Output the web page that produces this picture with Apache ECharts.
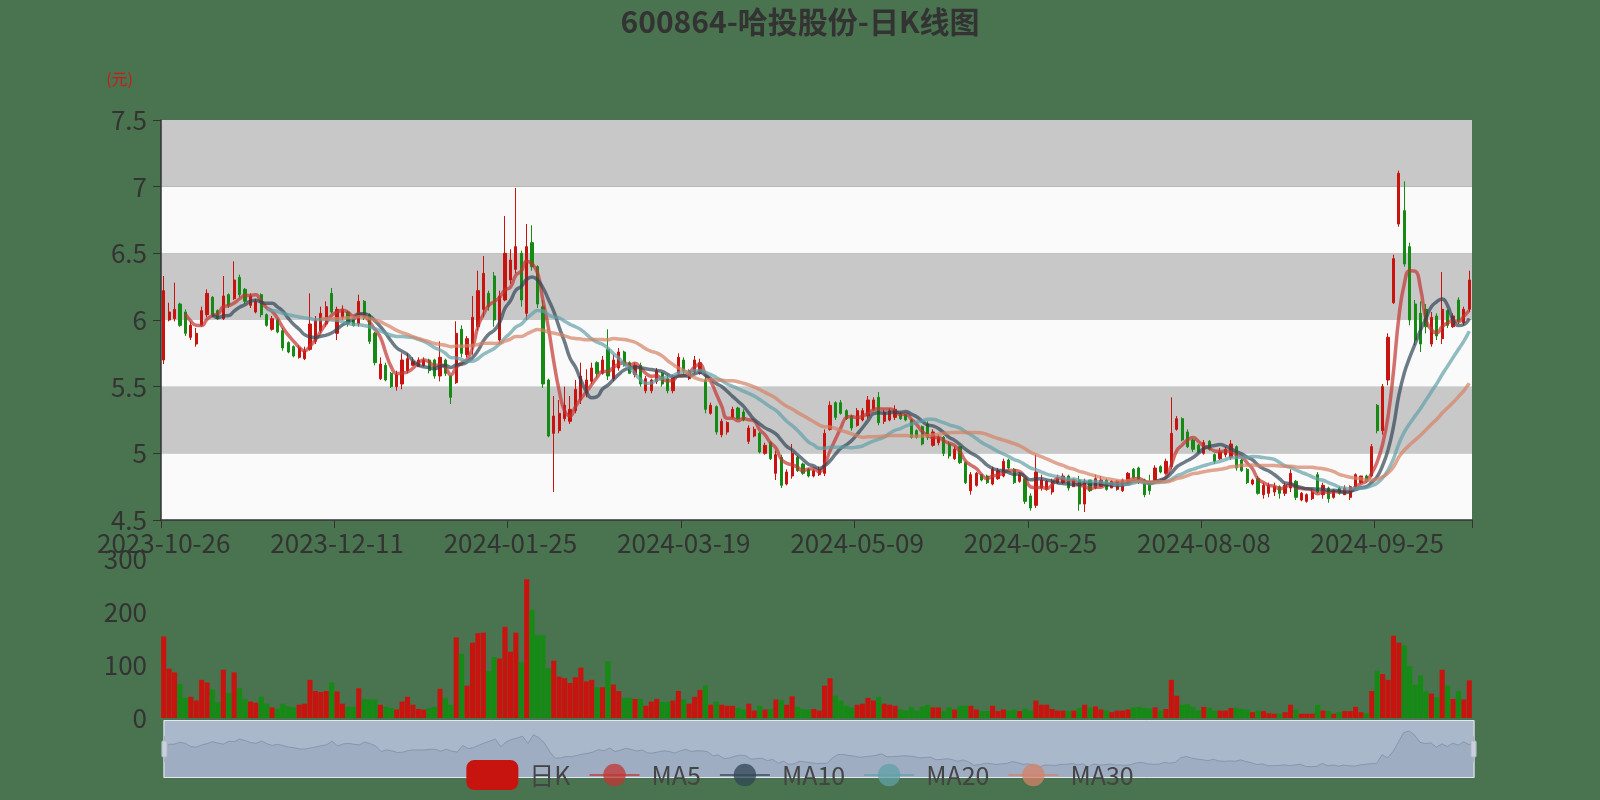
<!DOCTYPE html>
<html><head><meta charset="utf-8">
<script src="https://cdn.jsdelivr.net/npm/echarts@6/dist/echarts.min.js"></script>
<style>html,body{margin:0;padding:0;background:#4a7350;}#main{width:1600px;height:800px;}</style>
</head><body><div id="main"></div><script>
const dates = [
'2023-10-26','2023-10-27','2023-10-30','2023-10-31',
'2023-11-01','2023-11-02','2023-11-03','2023-11-06','2023-11-07','2023-11-08','2023-11-09','2023-11-10','2023-11-13','2023-11-14','2023-11-15','2023-11-16','2023-11-17','2023-11-20','2023-11-21','2023-11-22','2023-11-23','2023-11-24','2023-11-27','2023-11-28','2023-11-29','2023-11-30',
'2023-12-01','2023-12-04','2023-12-05','2023-12-06','2023-12-07','2023-12-08','2023-12-11','2023-12-12','2023-12-13','2023-12-14','2023-12-15','2023-12-18','2023-12-19','2023-12-20','2023-12-21','2023-12-22','2023-12-25','2023-12-26','2023-12-27','2023-12-28','2023-12-29',
'2024-01-02','2024-01-03','2024-01-04','2024-01-05','2024-01-08','2024-01-09','2024-01-10','2024-01-11','2024-01-12','2024-01-15','2024-01-16','2024-01-17','2024-01-18','2024-01-19','2024-01-22','2024-01-23','2024-01-24','2024-01-25','2024-01-26','2024-01-29','2024-01-30','2024-01-31',
'2024-02-01','2024-02-02','2024-02-05','2024-02-06','2024-02-07','2024-02-08','2024-02-19','2024-02-20','2024-02-21','2024-02-22','2024-02-23','2024-02-26','2024-02-27','2024-02-28','2024-02-29',
'2024-03-01','2024-03-04','2024-03-05','2024-03-06','2024-03-07','2024-03-08','2024-03-11','2024-03-12','2024-03-13','2024-03-14','2024-03-15','2024-03-18','2024-03-19','2024-03-20','2024-03-21','2024-03-22','2024-03-25','2024-03-26','2024-03-27','2024-03-28','2024-03-29',
'2024-04-01','2024-04-02','2024-04-03','2024-04-08','2024-04-09','2024-04-10','2024-04-11','2024-04-12','2024-04-15','2024-04-16','2024-04-17','2024-04-18','2024-04-19','2024-04-22','2024-04-23','2024-04-24','2024-04-25','2024-04-26','2024-04-29','2024-04-30',
'2024-05-06','2024-05-07','2024-05-08','2024-05-09','2024-05-10','2024-05-13','2024-05-14','2024-05-15','2024-05-16','2024-05-17','2024-05-20','2024-05-21','2024-05-22','2024-05-23','2024-05-24','2024-05-27','2024-05-28','2024-05-29','2024-05-30','2024-05-31',
'2024-06-03','2024-06-04','2024-06-05','2024-06-06','2024-06-07','2024-06-11','2024-06-12','2024-06-13','2024-06-14','2024-06-17','2024-06-18','2024-06-19','2024-06-20','2024-06-21','2024-06-24','2024-06-25','2024-06-26','2024-06-27','2024-06-28',
'2024-07-01','2024-07-02','2024-07-03','2024-07-04','2024-07-05','2024-07-08','2024-07-09','2024-07-10','2024-07-11','2024-07-12','2024-07-15','2024-07-16','2024-07-17','2024-07-18','2024-07-19','2024-07-22','2024-07-23','2024-07-24','2024-07-25','2024-07-26','2024-07-29','2024-07-30','2024-07-31',
'2024-08-01','2024-08-02','2024-08-05','2024-08-06','2024-08-07','2024-08-08','2024-08-09','2024-08-12','2024-08-13','2024-08-14','2024-08-15','2024-08-16','2024-08-19','2024-08-20','2024-08-21','2024-08-22','2024-08-23','2024-08-26','2024-08-27','2024-08-28','2024-08-29','2024-08-30',
'2024-09-02','2024-09-03','2024-09-04','2024-09-05','2024-09-06','2024-09-09','2024-09-10','2024-09-11','2024-09-12','2024-09-13','2024-09-18','2024-09-19','2024-09-20','2024-09-23','2024-09-24','2024-09-25','2024-09-26','2024-09-27','2024-09-30',
'2024-10-08','2024-10-09','2024-10-10','2024-10-11','2024-10-14','2024-10-15','2024-10-16','2024-10-17','2024-10-18','2024-10-21','2024-10-22','2024-10-23','2024-10-24','2024-10-25'
];
// [open, close, lowest, highest]
const ohlc = [
[5.70,6.22,5.67,6.33],[6.00,6.06,5.99,6.13],[6.01,6.08,5.99,6.28],[6.12,5.96,5.95,6.13],[6.06,5.90,5.88,6.08],
[5.87,5.96,5.85,5.99],[5.82,5.90,5.80,5.94],[5.96,6.07,5.95,6.10],[6.04,6.20,6.02,6.23],[6.17,6.04,6.02,6.18],
[6.07,6.01,6.00,6.08],[6.01,6.18,6.00,6.33],[6.19,6.11,6.09,6.20],[6.16,6.30,6.15,6.44],[6.32,6.19,6.17,6.34],
[6.23,6.14,6.12,6.24],[6.11,6.18,6.09,6.20],[6.06,6.14,6.05,6.16],[6.19,6.04,6.02,6.20],[6.04,5.96,5.95,6.05],
[5.93,6.01,5.92,6.03],[6.00,5.91,5.90,6.01],[5.92,5.79,5.77,5.94],[5.83,5.76,5.75,5.84],[5.80,5.73,5.72,5.81],
[5.72,5.79,5.71,5.81],[5.71,5.77,5.70,5.80],[5.78,5.97,5.77,6.20],[5.84,6.00,5.82,6.03],[5.92,6.05,5.90,6.10],
[5.97,6.10,5.95,6.14],[6.20,6.06,6.05,6.24],[5.90,6.08,5.85,6.10],[6.02,6.08,6.00,6.11],[6.06,5.97,5.95,6.07],
[6.00,5.96,5.95,6.01],[5.97,6.14,5.95,6.19],[6.14,6.02,6.00,6.15],[6.04,5.84,5.82,6.05],[5.90,5.68,5.66,5.91],
[5.56,5.67,5.55,5.72],[5.66,5.55,5.54,5.68],[5.60,5.50,5.49,5.61],[5.50,5.59,5.47,5.62],[5.52,5.70,5.48,5.75],
[5.62,5.71,5.60,5.75],[5.66,5.69,5.66,5.72],[5.65,5.70,5.65,5.72],[5.66,5.70,5.65,5.72],[5.70,5.62,5.60,5.71],
[5.70,5.58,5.56,5.71],[5.58,5.72,5.54,5.84],[5.70,5.60,5.58,5.71],[5.58,5.42,5.37,5.58],[5.53,5.90,5.52,5.99],
[5.93,5.75,5.72,5.96],[5.74,5.86,5.72,5.88],[5.80,6.02,5.74,6.18],[5.95,6.22,5.92,6.37],[6.08,6.35,6.02,6.48],
[6.20,6.10,6.07,6.22],[6.33,6.00,5.95,6.36],[5.85,6.18,5.82,6.22],[6.15,6.50,6.14,6.78],[6.30,6.45,6.27,6.53],
[6.38,6.55,6.35,6.99],[6.50,6.15,6.10,6.52],[6.05,6.55,6.00,6.72],[6.58,6.40,6.37,6.71],[6.40,6.12,6.09,6.41],
[6.10,5.52,5.49,6.15],[5.55,5.13,5.12,5.56],[5.15,5.28,4.71,5.43],[5.17,5.30,5.15,5.40],[5.26,5.36,5.24,5.50],
[5.24,5.33,5.22,5.43],[5.32,5.48,5.30,5.55],[5.40,5.58,5.37,5.68],[5.45,5.55,5.42,5.63],[5.54,5.64,5.52,5.68],
[5.68,5.60,5.57,5.69],[5.60,5.70,5.59,5.73],[5.78,5.58,5.55,5.93],[5.56,5.70,5.54,5.74],[5.64,5.76,5.62,5.79],
[5.76,5.66,5.65,5.77],[5.68,5.60,5.60,5.69],[5.59,5.66,5.57,5.68],[5.66,5.52,5.50,5.68],[5.47,5.56,5.45,5.58],
[5.47,5.55,5.45,5.56],[5.54,5.62,5.52,5.64],[5.60,5.52,5.50,5.61],[5.56,5.47,5.45,5.59],[5.47,5.58,5.45,5.59],
[5.60,5.72,5.59,5.75],[5.70,5.62,5.59,5.72],[5.56,5.62,5.55,5.63],[5.61,5.70,5.60,5.73],[5.60,5.68,5.59,5.71],
[5.55,5.33,5.30,5.58],[5.30,5.36,5.29,5.38],[5.35,5.16,5.14,5.36],[5.14,5.24,5.12,5.26],[5.16,5.23,5.14,5.24],
[5.27,5.33,5.26,5.35],[5.34,5.26,5.25,5.35],[5.31,5.25,5.24,5.33],[5.09,5.19,5.07,5.21],[5.13,5.18,5.12,5.20],
[5.15,5.01,5.00,5.16],[5.00,5.06,4.99,5.08],[5.08,4.96,4.95,5.09],[4.85,4.99,4.80,5.02],[4.97,4.76,4.74,4.99],
[4.77,4.86,4.76,4.88],[4.83,5.00,4.81,5.07],[4.97,4.87,4.86,4.98],[4.92,4.85,4.84,4.93],[4.88,4.83,4.82,4.89],
[4.83,4.87,4.82,4.88],[4.84,4.88,4.83,4.90],[4.85,5.15,4.83,5.18],[5.18,5.36,5.17,5.39],[5.38,5.27,5.25,5.39],
[5.38,5.30,5.29,5.40],[5.32,5.26,5.25,5.33],[5.28,5.19,5.17,5.29],[5.21,5.32,5.20,5.34],[5.25,5.32,5.24,5.34],
[5.28,5.40,5.26,5.43],[5.33,5.40,5.32,5.42],[5.42,5.23,5.21,5.46],[5.24,5.31,5.22,5.33],[5.25,5.32,5.24,5.34],
[5.27,5.33,5.25,5.36],[5.30,5.26,5.25,5.31],[5.29,5.25,5.24,5.29],[5.25,5.12,5.11,5.26],[5.17,5.12,5.11,5.18],
[5.20,5.07,5.06,5.21],[5.22,5.12,5.10,5.24],[5.06,5.16,5.05,5.18],[5.08,5.12,5.06,5.14],[5.12,5.00,4.98,5.13],
[5.07,4.98,4.96,5.09],[4.96,5.03,4.95,5.05],[5.05,4.93,4.92,5.05],[4.93,4.78,4.77,4.94],[4.72,4.84,4.69,4.86],
[4.76,4.85,4.75,4.86],[4.84,4.80,4.79,4.84],[4.83,4.78,4.77,4.84],[4.77,4.88,4.76,4.90],[4.81,4.87,4.80,4.89],
[4.83,4.94,4.82,4.96],[4.95,4.89,4.88,4.96],[4.88,4.78,4.77,4.89],[4.79,4.84,4.78,4.86],[4.81,4.64,4.62,4.81],
[4.68,4.59,4.57,4.70],[4.61,4.86,4.59,4.99],[4.74,4.80,4.72,4.84],[4.73,4.79,4.72,4.80],[4.71,4.79,4.69,4.81],
[4.78,4.82,4.77,4.84],[4.78,4.83,4.77,4.85],[4.83,4.74,4.72,4.84],[4.75,4.80,4.75,4.81],[4.80,4.62,4.57,4.83],
[4.62,4.78,4.56,4.81],[4.80,4.72,4.71,4.80],[4.74,4.81,4.73,4.84],[4.75,4.80,4.75,4.83],[4.80,4.73,4.72,4.81],
[4.74,4.79,4.74,4.80],[4.73,4.79,4.72,4.80],[4.72,4.80,4.71,4.81],[4.78,4.85,4.77,4.86],[4.88,4.82,4.81,4.89],
[4.89,4.80,4.77,4.90],[4.80,4.69,4.67,4.81],[4.78,4.72,4.69,4.84],[4.79,4.89,4.78,4.91],[4.90,4.86,4.85,4.91],
[4.85,4.94,4.84,4.96],[4.90,5.15,4.88,5.42],[5.18,5.26,5.17,5.28],[5.26,5.10,5.09,5.27],[5.16,5.05,5.04,5.18],
[5.10,5.03,5.01,5.11],[5.06,5.01,5.00,5.07],[5.00,5.08,4.99,5.10],[5.09,5.03,5.02,5.10],[4.99,4.94,4.92,5.00],
[4.96,5.01,4.95,5.04],[4.99,5.03,4.97,5.05],[4.97,5.07,4.95,5.10],[5.05,4.89,4.87,5.06],[4.95,4.87,4.86,4.96],
[4.88,4.78,4.77,4.89],[4.77,4.80,4.76,4.81],[4.81,4.70,4.69,4.83],[4.69,4.76,4.66,4.78],[4.70,4.76,4.67,4.78],
[4.71,4.75,4.68,4.78],[4.75,4.70,4.66,4.76],[4.70,4.76,4.68,4.78],[4.74,4.85,4.71,4.88],[4.79,4.67,4.65,4.80],
[4.65,4.70,4.64,4.71],[4.64,4.69,4.63,4.70],[4.66,4.71,4.65,4.73],[4.84,4.71,4.70,4.86],[4.69,4.76,4.66,4.78],
[4.74,4.66,4.63,4.75],[4.67,4.72,4.66,4.73],[4.74,4.70,4.69,4.75],[4.69,4.74,4.69,4.76],[4.67,4.75,4.65,4.76],
[4.75,4.84,4.74,4.85],[4.78,4.83,4.77,4.83],[4.83,4.79,4.78,4.84],[4.83,5.05,4.82,5.07],[5.36,5.17,5.15,5.37],
[5.17,5.50,5.14,5.52],[5.55,5.87,5.51,5.90],[6.13,6.46,6.12,6.49],[6.72,7.10,6.70,7.12],[6.82,6.42,6.40,7.04],
[6.55,6.00,5.96,6.58],[6.12,5.85,5.81,6.15],[6.05,5.82,5.76,6.14],[6.08,5.95,5.90,6.12],[5.82,6.02,5.80,6.06],
[6.03,5.88,5.85,6.05],[5.86,6.08,5.82,6.36],[6.07,5.96,5.94,6.08],[5.95,6.03,5.94,6.05],[6.15,5.99,5.97,6.17],
[5.98,6.08,5.96,6.10],[6.08,6.30,6.06,6.37]
];
const volumes = [
154,93,86,64,38,40,33,72,67,54,30,91,47,86,56,36,31,29,40,27,
20,17,27,22,20,25,27,72,51,49,51,67,50,27,21,21,56,36,35,35,
25,21,19,16,31,40,25,17,16,19,21,55,38,25,152,121,61,142,160,161,
88,115,112,172,125,161,105,262,204,156,156,94,108,78,75,66,77,95,69,72,
58,58,107,63,51,38,38,36,36,23,31,36,30,30,33,51,35,27,40,53,
61,25,31,25,23,23,19,16,27,14,23,16,17,35,33,25,41,21,17,16,
17,14,61,75,42,33,23,20,25,27,38,33,40,27,25,23,16,14,21,14,
21,25,20,20,13,20,16,23,23,23,16,13,13,23,13,16,14,16,13,18,
14,33,25,25,17,14,14,13,14,19,25,20,22,16,14,11,14,14,16,20,
21,19,18,20,14,17,72,42,25,26,21,14,21,19,14,14,14,19,19,17,
16,11,14,13,9,8,8,11,25,16,8,8,8,25,14,13,8,11,13,13,
21,11,9,51,89,83,72,155,142,137,98,63,80,50,46,39,91,61,36,51,
35,71
];
const legendNames = ['日K','MA5','MA10','MA20','MA30'];
const maDays = [5,10,20,30];
const maColors = ['#c23531','#2f4554','#61a0a8','#d48265'];

const UP = '#c8140e', DOWN = '#158a15';
const FONT = '"Noto Sans CJK SC", "Noto Sans", sans-serif';
const closes = ohlc.map(r => r[1]);
function calcMA(n) {
  return closes.map((_, i) => {
    if (i < n - 1) return '-';
    let s = 0;
    for (let k = i - n + 1; k <= i; k++) s += closes[k];
    return +(s / n).toFixed(3);
  });
}
const maSeries = maDays.map((d, j) => ({
  name: legendNames[j + 1], type: 'line', data: calcMA(d),
  xAxisIndex: 0, yAxisIndex: 0, smooth: true, showSymbol: false, symbol: 'circle',
  itemStyle: { color: maColors[j], opacity: 0.75 },
  lineStyle: { width: 3.5, opacity: 0.7, color: maColors[j] },
  z: 3
}));

const chart = echarts.init(document.getElementById('main'), null, { renderer: 'canvas' });
chart.setOption({
  animation: false,
  backgroundColor: '#4a7350',
  textStyle: { fontFamily: FONT },
  title: {
    text: '600864-哈投股份-日K线图', left: 'center', top: 2,
    textStyle: { fontSize: 30, fontWeight: 'bold', color: '#333', fontFamily: FONT }
  },
  legend: {
    data: legendNames, bottom: 5, left: 'center', z: 10,
    itemWidth: 50, itemHeight: 28, itemGap: 18,
    textStyle: { fontSize: 25, color: '#444', fontFamily: FONT, padding: [0, 0, 0, 7] }
  },
  grid: [
    { left: 161, right: 128, top: 120, height: 400 },
    { left: 161, right: 128, top: 559, height: 159 }
  ],
  xAxis: [
    {
      type: 'category', data: dates, gridIndex: 0, boundaryGap: true,
      axisLine: { show: true, lineStyle: { color: '#333', width: 1.5 } },
      axisTick: { show: true, interval: 31, length: 8, lineStyle: { color: '#333' } },
      axisLabel: { interval: 31, fontSize: 26, color: '#333', margin: 10, fontFamily: FONT },
      splitLine: { show: false }, splitArea: { show: false }
    },
    {
      type: 'category', data: dates, gridIndex: 1, boundaryGap: true,
      axisLine: { show: false }, axisTick: { show: false }, axisLabel: { show: false },
      splitLine: { show: false }
    }
  ],
  yAxis: [
    {
      type: 'value', gridIndex: 0, min: 4.5, max: 7.5, interval: 0.5, scale: true,
      name: '(元)', nameLocation: 'end', nameGap: 33,
      nameTextStyle: { color: '#cc1a1a', fontSize: 16, align: 'right', padding: [0, 28, 0, 0], fontFamily: FONT },
      axisLine: { show: true, lineStyle: { color: '#333', width: 1.5 } },
      axisTick: { show: true, length: 8, lineStyle: { color: '#333' } },
      axisLabel: { fontSize: 26, color: '#333', margin: 14, fontFamily: FONT },
      splitLine: { show: false },
      splitArea: { show: true, areaStyle: { color: ['#fafafa', '#c8c8c8'], opacity: 1 } }
    },
    {
      type: 'value', gridIndex: 1, min: 0, max: 300, interval: 100,
      axisLine: { show: false }, axisTick: { show: false }, splitLine: { show: false },
      axisLabel: { fontSize: 26, color: '#333', margin: 14, fontFamily: FONT }
    }
  ],
  dataZoom: [
    { type: 'inside', xAxisIndex: [0, 1], start: 0, end: 100 },
    {
      type: 'slider', xAxisIndex: [0, 1], start: 0, end: 100,
      left: 161, right: 128, top: 720, height: 58, z: 4,
      showDetail: false, brushSelect: false,
      backgroundColor: '#aab8cc', fillerColor: 'rgba(255,255,255,0)', borderColor: '#e3e7ee',
      dataBackground: { lineStyle: { color: '#8593ab', width: 1, opacity: 0.9 }, areaStyle: { color: '#97a5bd', opacity: 0.6 } },
      selectedDataBackground: { lineStyle: { color: '#8593ab', width: 1, opacity: 0.9 }, areaStyle: { color: '#97a5bd', opacity: 0.6 } },
      handleSize: '45%', handleStyle: { color: '#c9d0dc', borderColor: '#a9b3c4' },
      moveHandleSize: 3, moveHandleStyle: { color: '#e3e7ee' }
    }
  ],
  series: [
    {
      name: '日K', type: 'candlestick', data: ohlc, xAxisIndex: 0, yAxisIndex: 0,
      itemStyle: { color: UP, color0: DOWN, borderColor: UP, borderColor0: DOWN }
    },
    ...maSeries,
    {
      name: '成交量', type: 'bar', xAxisIndex: 1, yAxisIndex: 1, barCategoryGap: '6%',
      data: volumes.map((v, i) => ({ value: v, itemStyle: { color: ohlc[i][1] >= ohlc[i][0] ? UP : DOWN } }))
    }
  ]
});
</script></body></html>
